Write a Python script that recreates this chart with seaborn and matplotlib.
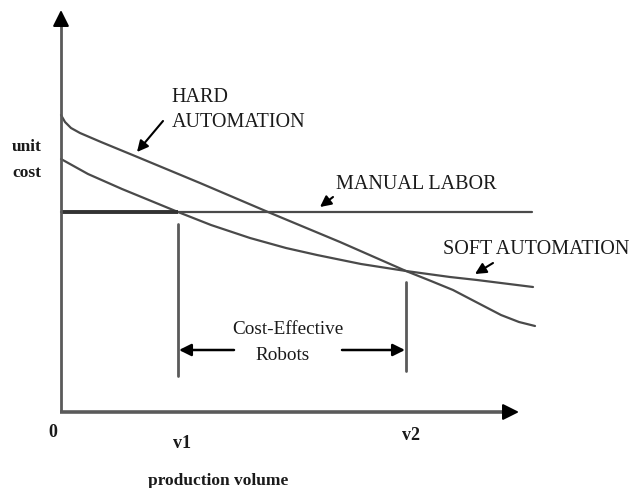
import matplotlib
matplotlib.use("Agg")
import matplotlib.pyplot as plt
import seaborn as sns
import pandas as pd

# ---- data (x: production volume units, y: unit cost units) ----
hard_x = [0, 4, 10, 19, 40, 74, 139, 207, 279, 345, 370, 392, 415, 440, 458, 474]
hard_y = [297, 290, 284, 279, 270, 256, 229, 200, 170, 141, 131, 122, 110, 97, 90, 86]
soft_x = [0, 27, 61, 117, 150, 189, 225, 256, 300, 345, 389, 416, 472]
soft_y = [253, 238, 223, 200, 187, 174, 164, 157, 148, 141, 135, 132, 125]
manual_x = [0, 471]
manual_y = [200, 200]
v1 = 117
v2 = 345
tick_labels = ["0", "v1", "v2"]
tick_pos = [0, v1, v2]

sns.set_theme(style="white")
plt.rcParams["font.family"] = ["Liberation Serif", "DejaVu Serif"]

fig = plt.figure(figsize=(6.38, 4.89), dpi=100)
ax = fig.add_axes([0, 0, 1, 1])
ax.set_xlim(-61, 577)
ax.set_ylim(-76, 413)
ax.axis("off")

line_col = "#4a4a4a"
df_h = pd.DataFrame({"x": hard_x, "y": hard_y})
df_s = pd.DataFrame({"x": soft_x, "y": soft_y})
df_m = pd.DataFrame({"x": manual_x, "y": manual_y})
for d in (df_h, df_s, df_m):
    sns.lineplot(data=d, x="x", y="y", ax=ax, color=line_col, lw=1.6,
                 estimator=None, sort=False)
ax.plot([0, v1], [manual_y[0], manual_y[0]], color="#333333", lw=2.8,
        solid_capstyle="butt")

# axes with arrows (grey shafts, black heads)
axis_col = "#5a5a5a"
ax.plot([-1, 450], [0, 0], color=axis_col, lw=2.6, solid_capstyle="butt")
ax.plot([0, 0], [0, 393], color=axis_col, lw=2.0, solid_capstyle="butt")
head = dict(arrowstyle="-|>,head_length=0.7,head_width=0.35", color="black",
            lw=1.5, shrinkA=0, shrinkB=0, mutation_scale=14)
ax.annotate("", xy=(458, 0), xytext=(446, 0), arrowprops=head)
ax.annotate("", xy=(0, 402), xytext=(0, 390), arrowprops=head)

# vertical markers
ax.plot([v1, v1], [36, 188], color=axis_col, lw=2.0)
ax.plot([v2, v2], [41, 130], color=axis_col, lw=2.0)

# double arrows
arr = dict(arrowstyle="-|>,head_length=0.6,head_width=0.3", color="black",
           lw=1.8, shrinkA=0, shrinkB=0, mutation_scale=12)
ax.annotate("", xy=(v1 + 1, 62), xytext=(173, 62), arrowprops=arr)
ax.annotate("", xy=(v2 - 1, 62), xytext=(281, 62), arrowprops=arr)

txt = "#1a1a1a"
ax.text(227, 83, "Cost-Effective", ha="center", va="center", fontsize=13.8,
        color=txt)
ax.text(222, 57, "Robots", ha="center", va="center", fontsize=13.8, color=txt)

# curve labels
ax.text(110, 315, "HARD", ha="left", va="center", fontsize=14.5, color=txt)
ax.text(111, 290, "AUTOMATION", ha="left", va="center", fontsize=14.5, color=txt)
ax.text(275, 228, "MANUAL LABOR", ha="left", va="center", fontsize=14.5, color=txt)
ax.text(382, 163, "SOFT AUTOMATION", ha="left", va="center", fontsize=14.5, color=txt)

small = dict(arrowstyle="-|>,head_length=0.6,head_width=0.3", color="black",
             lw=1.5, shrinkA=0, shrinkB=0, mutation_scale=11)
ax.annotate("", xy=(76, 260), xytext=(102, 291), arrowprops=small)
ax.annotate("", xy=(259, 205), xytext=(272, 215), arrowprops=small)
ax.annotate("", xy=(414, 138), xytext=(432, 149), arrowprops=small)

# axis labels
ax.text(-34, 266, "unit", ha="center", va="center", fontsize=12.5,
        fontweight="bold", color=txt)
ax.text(-34, 240, "cost", ha="center", va="center", fontsize=12.5,
        fontweight="bold", color=txt)
ax.text(-8, -20, tick_labels[0], ha="center", va="center", fontsize=13,
        fontweight="bold", color=txt)
ax.text(tick_pos[1] + 4, -31, tick_labels[1], ha="center", va="center",
        fontsize=13, fontweight="bold", color=txt)
ax.text(tick_pos[2] + 5, -23, tick_labels[2], ha="center", va="center",
        fontsize=13, fontweight="bold", color=txt)
ax.text(157, -68, "production volume", ha="center", va="center", fontsize=12.5,
        fontweight="bold", color=txt)

fig.savefig("out.png", dpi=100)
